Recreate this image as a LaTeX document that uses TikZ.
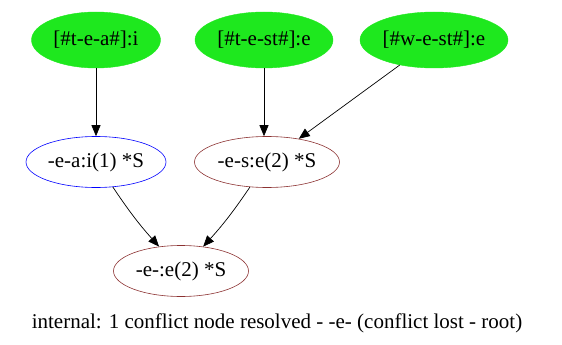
\documentclass[tikz,border=0pt]{standalone}
\usepackage{fontspec}
\setmainfont{Liberation Serif}
\usetikzlibrary{shapes.geometric,arrows.meta}
\definecolor{gvgreen}{RGB}{30,232,30}
\definecolor{gvbrown}{RGB}{140,50,50}
\tikzset{
  leaf/.style={ellipse, fill=gvgreen, draw=gvgreen, minimum width=#1, minimum height=56pt, inner sep=0pt, font=\fontsize{21}{23}\selectfont},
  inner/.style={ellipse, draw=#1, minimum height=51pt, inner sep=0pt, font=\fontsize{21}{23}\selectfont, line width=0.6pt},
  edge/.style={-{Triangle[length=11pt,width=9pt]}, line width=0.7pt}
}
\begin{document}
\begin{tikzpicture}[x=1pt,y=-1pt]
\useasboundingbox (0,0) rectangle (562,345);
\node[leaf=129pt] (a) at (96,40) {[\#t-e-a\#]:i};
\node[leaf=138pt] (b) at (264,40) {[\#t-e-st\#]:e};
\node[leaf=148pt] (c) at (434,40) {[\#w-e-st\#]:e};
\node[inner=blue, minimum width=140pt] (d) at (96,162) {-e-a:i(1) *S};
\node[inner=gvbrown, minimum width=145pt] (e) at (267,162) {-e-s:e(2) *S};
\node[inner=gvbrown, minimum width=135pt] (f) at (181,271) {-e-:e(2) *S};
\node[font=\fontsize{21}{23}\selectfont] (lbl) at (277,323) {internal: 1 conflict node resolved - -e- (conflict lost - root)};
\draw[edge] (a) -- (d);
\draw[edge] (b.south) -- (b.south |- e.north);
\draw[edge] (c) -- (e);
\draw[edge] (d) to[bend right=4] (f);
\draw[edge] (e) to[bend left=4] (f);
\end{tikzpicture}
\end{document}
